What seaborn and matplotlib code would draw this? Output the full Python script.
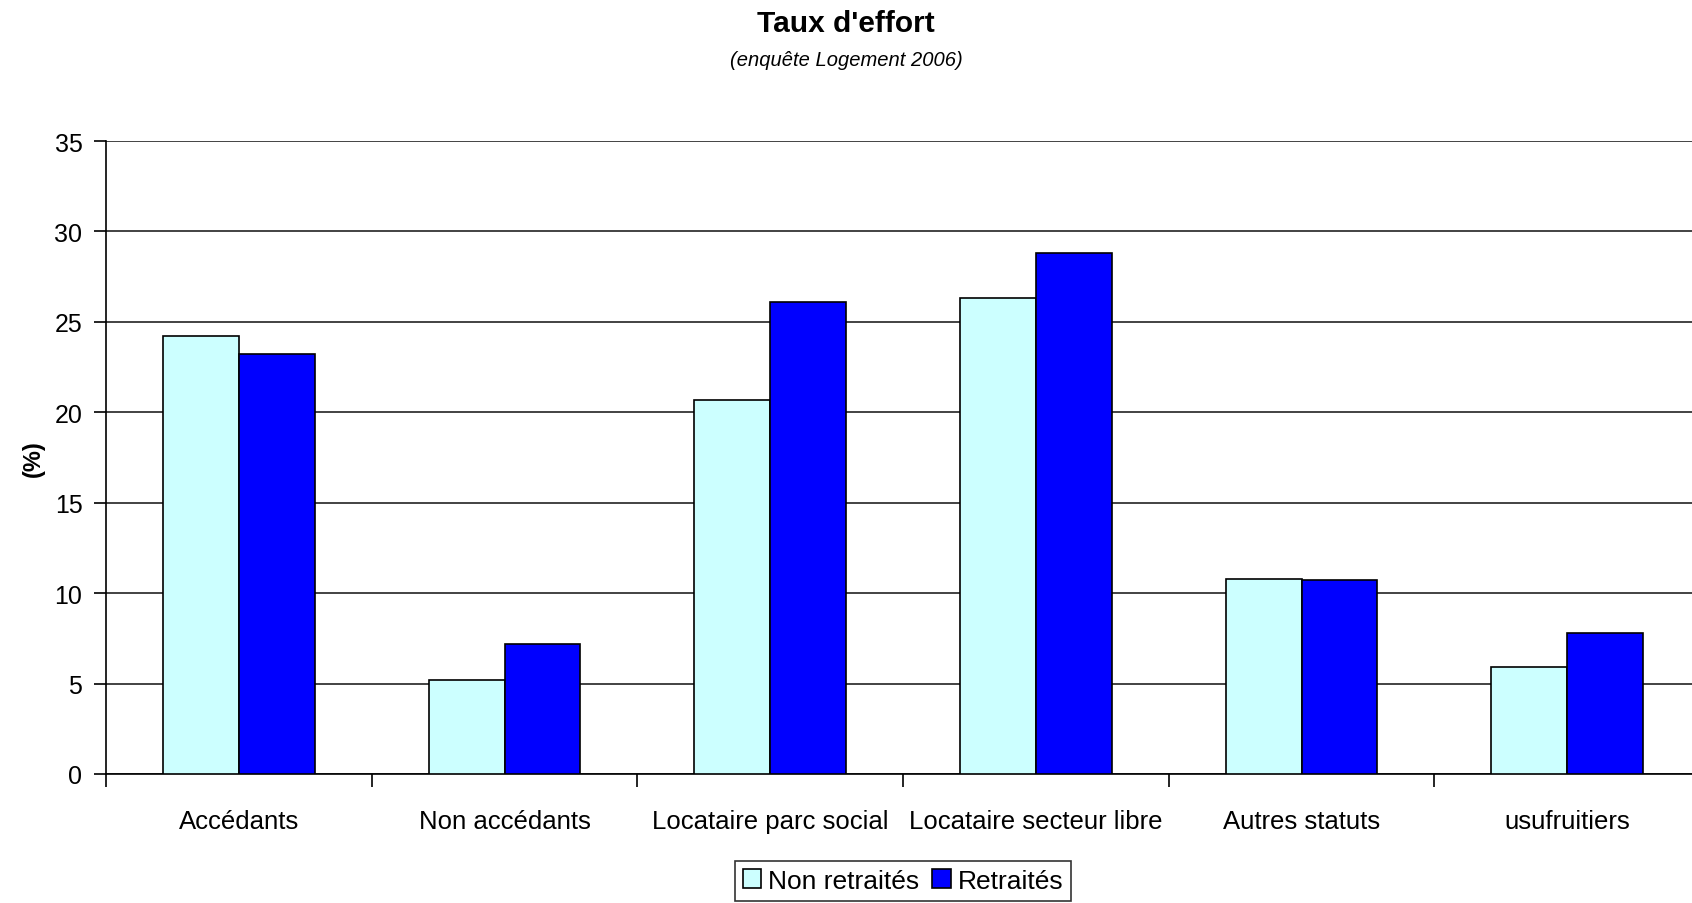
import matplotlib
matplotlib.use("Agg")
import matplotlib.pyplot as plt
import matplotlib.patches as mpatches
import pandas as pd
import seaborn as sns

# data
categories = ["Accédants", "Non accédants", "Locataire parc social",
              "Locataire secteur libre", "Autres statuts", "usufruitiers"]
non_retraites = [24.2, 5.2, 20.7, 26.3, 10.8, 5.9]
retraites = [23.2, 7.2, 26.1, 28.8, 10.7, 7.8]
series_names = ["Non retraités", "Retraités"]
y_ticks = [0, 5, 10, 15, 20, 25, 30, 35]

colors = {"Non retraités": "#CCFFFF", "Retraités": "#0000FF"}

df = pd.DataFrame({
    "categorie": categories * 2,
    "statut": [series_names[0]] * len(categories) + [series_names[1]] * len(categories),
    "taux": non_retraites + retraites,
})

sns.set_style("white")
plt.rcParams["font.family"] = ["Liberation Sans", "DejaVu Sans"]
plt.rcParams["text.color"] = "black"
plt.rcParams["axes.labelcolor"] = "black"
plt.rcParams["xtick.color"] = "black"
plt.rcParams["ytick.color"] = "black"

fig = plt.figure(figsize=(16.92, 9.04), dpi=100)
ax = fig.add_axes([106 / 1692, 129 / 904, 1594 / 1692, 633 / 904])

sns.barplot(data=df, x="categorie", y="taux", hue="statut", palette=colors,
            saturation=1, width=0.57, gap=0, edgecolor="black", linewidth=1.2,
            order=categories, hue_order=series_names, ax=ax, legend=False,
            zorder=3)

ax.set_xlim(-0.5, 5.5)
ax.set_ylim(0, 35)
ax.set_yticks(y_ticks)
ax.yaxis.grid(True, color="#222222", linewidth=1.2, zorder=0)
ax.set_axisbelow(True)
for side in ["top", "right"]:
    ax.spines[side].set_visible(False)
for side in ["left", "bottom"]:
    ax.spines[side].set_color("black")
    ax.spines[side].set_linewidth(1.2)

# labels at the centres, tick marks between the groups
ax.set_xticks(range(len(categories)))
ax.set_xticklabels(categories, fontsize=18.5)
ax.set_xticks([i - 0.5 for i in range(len(categories) + 1)], minor=True)
ax.tick_params(axis="x", which="major", bottom=True, length=0, pad=25)
ax.tick_params(axis="x", which="minor", bottom=True, length=9, width=1.2,
               color="black", direction="out")
ax.tick_params(axis="y", left=True, length=9, width=1.2, color="black",
               direction="out", labelsize=18, pad=8)
ax.set_xlabel("")
ax.set_ylabel("(%)", fontsize=17, fontweight="bold", labelpad=7)

fig.text(0.5, 1 - 24 / 904, "Taux d'effort", ha="center", va="center",
         fontsize=21.5, fontweight="bold")
fig.text(0.5, 1 - 61 / 904, "(enquête Logement 2006)", ha="center", va="center",
         fontsize=14.5, style="italic")

handles = [mpatches.Patch(facecolor=colors[s], edgecolor="black", linewidth=1.2, label=s)
           for s in series_names]
leg = fig.legend(handles=handles, loc="upper center",
                 bbox_to_anchor=(903 / 1692, 1 - 862 / 904),
                 ncol=2, fontsize=19, frameon=True, fancybox=False,
                 handlelength=0.7, handleheight=0.7, handletextpad=0.25,
                 columnspacing=0.5, borderpad=0.3, borderaxespad=0)
leg.get_frame().set_edgecolor("black")
leg.get_frame().set_linewidth(1.2)

fig.savefig("out.png", dpi=100)
